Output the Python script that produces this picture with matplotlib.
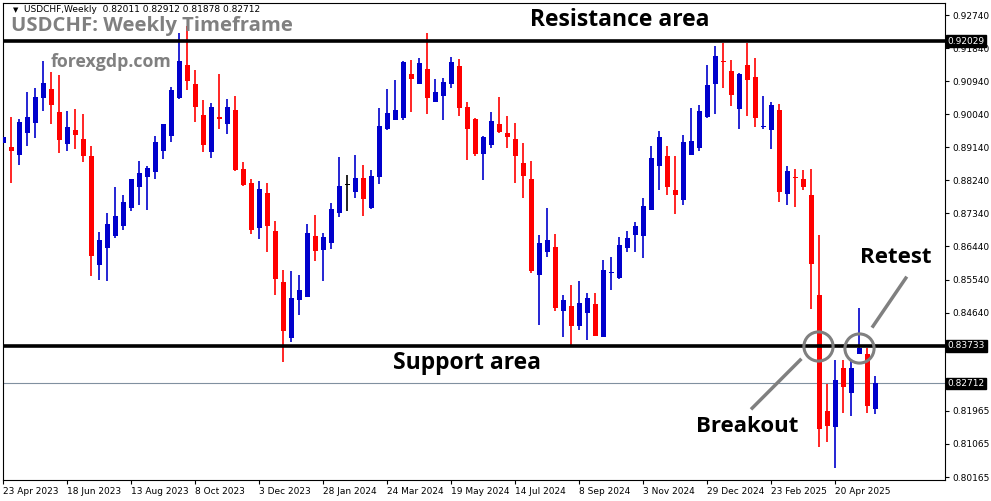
import matplotlib
matplotlib.use("Agg")
import matplotlib.pyplot as plt
import numpy as np

dates = ["23 Apr 2023", "18 Jun 2023", "13 Aug 2023", "8 Oct 2023", "3 Dec 2023", "28 Jan 2024",
         "24 Mar 2024", "19 May 2024", "14 Jul 2024", "8 Sep 2024", "3 Nov 2024", "29 Dec 2024",
         "23 Feb 2025", "20 Apr 2025"]
opens = [0.8925,0.8915,0.8894,0.8954,0.8981,0.9049,0.9073,0.9010,0.8924,0.8961,
         0.8936,0.8891,0.8594,0.8641,0.8673,0.8701,0.8750,0.8807,0.8834,0.8848,
         0.8905,0.8945,0.9048,0.9137,0.9086,0.9002,0.8902,0.8996,0.8978,0.9015,
         0.8855,0.8818,0.8695,0.8790,0.8687,0.8547,0.8396,0.8499,0.8507,0.8672,
         0.8635,0.8654,0.8736,0.8811,0.8793,0.8830,0.8749,0.8834,0.8965,0.8989,
         0.8994,0.9113,0.9087,0.9127,0.9038,0.9054,0.9087,0.9136,0.9024,0.8992,
         0.8896,0.8921,0.8977,0.8953,0.8936,0.8871,0.8828,0.8567,0.8630,0.8643,
         0.8469,0.8482,0.8428,0.8464,0.8487,0.8398,0.8571,0.8558,0.8640,0.8675,
         0.8673,0.8744,0.8864,0.8891,0.8798,0.8771,0.8894,0.8913,0.8997,0.9085,
         0.9148,0.9121,0.9019,0.9138,0.9105,0.8970,0.8962,0.9016,0.8786,0.8834,
         0.8828,0.8784,0.8512,0.8196,0.8154,0.8313,0.8246,0.8352,0.8352,0.82011]
closes = [0.8943,0.8905,0.8983,0.8996,0.9051,0.9089,0.9030,0.8935,0.8969,0.8948,
          0.8891,0.8619,0.8661,0.8705,0.8727,0.8765,0.8828,0.8844,0.8858,0.8928,
          0.8977,0.9070,0.9149,0.9095,0.9023,0.8921,0.9024,0.8992,0.9024,0.8852,
          0.8812,0.8690,0.8800,0.8701,0.8556,0.8415,0.8504,0.8525,0.8681,0.8632,
          0.8670,0.8746,0.8809,0.8811,0.8830,0.8774,0.8836,0.8972,0.9007,0.9015,
          0.9147,0.9100,0.9143,0.9049,0.9064,0.9092,0.9146,0.9022,0.8965,0.8895,
          0.8943,0.8985,0.8955,0.8943,0.8891,0.8837,0.8577,0.8653,0.8661,0.8477,
          0.8498,0.8428,0.8490,0.8504,0.8401,0.8580,0.8572,0.8648,0.8667,0.8700,
          0.8754,0.8885,0.8942,0.8807,0.8785,0.8928,0.8931,0.9013,0.9083,0.9162,
          0.9147,0.9056,0.9114,0.9098,0.8995,0.8973,0.9029,0.8793,0.8849,0.8831,
          0.8807,0.8597,0.8148,0.8156,0.8281,0.8262,0.8313,0.8368,0.8211,0.82712]
highs = [0.8979,0.8997,0.8990,0.9065,0.9074,0.9149,0.9120,0.9111,0.9014,0.9018,
         0.9004,0.8917,0.8684,0.8735,0.8807,0.8785,0.8828,0.8877,0.8864,0.8946,
         0.8977,0.9078,0.9226,0.9245,0.9125,0.9044,0.9035,0.9114,0.9045,0.9053,
         0.8875,0.8828,0.8822,0.8818,0.8714,0.8581,0.8577,0.8566,0.8705,0.8730,
         0.8682,0.8763,0.8888,0.8839,0.8893,0.8866,0.8852,0.9022,0.9073,0.9098,
         0.9149,0.9151,0.9157,0.9226,0.9100,0.9102,0.9160,0.9155,0.9037,0.8995,
         0.8945,0.9011,0.9051,0.8998,0.8980,0.8926,0.8877,0.8675,0.8749,0.8677,
         0.8513,0.8539,0.8550,0.8517,0.8517,0.8607,0.8615,0.8670,0.8687,0.8711,
         0.8776,0.8917,0.8958,0.8917,0.8891,0.8947,0.9021,0.9029,0.9138,0.9190,
         0.9197,0.9151,0.9117,0.9199,0.9157,0.9053,0.9038,0.9032,0.8864,0.8856,
         0.8852,0.8855,0.8675,0.8270,0.8335,0.8335,0.8332,0.8476,0.8368,0.82912]
lows = [0.8850,0.8818,0.8867,0.8918,0.8940,0.9014,0.8978,0.8899,0.8905,0.8910,
        0.8875,0.8564,0.8554,0.8551,0.8666,0.8690,0.8741,0.8758,0.8744,0.8829,
        0.8883,0.8929,0.9045,0.9071,0.8984,0.8902,0.8886,0.8965,0.8951,0.8850,
        0.8809,0.8679,0.8664,0.8630,0.8513,0.8330,0.8385,0.8458,0.8507,0.8605,
        0.8551,0.8638,0.8724,0.8741,0.8776,0.8727,0.8746,0.8815,0.8962,0.8989,
        0.8988,0.9010,0.9085,0.9005,0.9040,0.8987,0.9075,0.9000,0.8880,0.8891,
        0.8826,0.8913,0.8952,0.8913,0.8817,0.8776,0.8573,0.8430,0.8616,0.8469,
        0.8398,0.8376,0.8417,0.8390,0.8401,0.8398,0.8526,0.8556,0.8630,0.8630,
        0.8614,0.8744,0.8799,0.8785,0.8733,0.8758,0.8894,0.8905,0.8995,0.9005,
        0.9076,0.9026,0.8965,0.8999,0.8969,0.8965,0.8910,0.8766,0.8758,0.8752,
        0.8799,0.8475,0.8099,0.8113,0.8040,0.8192,0.8183,0.8352,0.8191,0.81878]
yticks = [0.92740, 0.91840, 0.90940, 0.90040, 0.89140, 0.88240, 0.87340, 0.86440,
          0.85540, 0.84640, 0.81965, 0.81065, 0.80165]
resistance = 0.92029
support = 0.83733
last_price = 0.82712

fig = plt.figure(figsize=(9.91, 5.01), dpi=100)
ax = fig.add_axes([3/991, 21/501, 942/991, 477/501])
x = np.arange(len(opens))
o = np.array(opens); c = np.array(closes)
cols = np.where(c > o, "#0000CC", np.where(c < o, "#FF0000", "#000000"))
cols[-1] = "#0000CC"
ax.vlines(x, lows, highs, colors=cols, linewidth=1.2, zorder=2)
body = np.maximum(np.abs(c - o), 0.00025)
ax.bar(x, body, bottom=np.minimum(o, c), width=0.62, color=cols, zorder=3)

ax.axhline(resistance, color="black", lw=2.6, zorder=4)
ax.axhline(support, color="black", lw=2.6, zorder=4)
ax.axhline(last_price, color="#8090A0", lw=0.8, zorder=1)

ax.set_xlim(-0.05, 117.7)
ax.set_ylim(0.80084, 0.93067)
ax.yaxis.tick_right()
ax.set_yticks(yticks)
ax.set_yticklabels([f"{v:.5f}" for v in yticks], fontsize=6.5, fontfamily="DejaVu Sans")
ax.set_xticks(np.arange(len(dates)) * 8)
ax.set_xticklabels(dates, fontsize=6.5, ha="left")
ax.tick_params(axis="both", length=3, width=0.8, pad=2)
for sp in ax.spines.values():
    sp.set_linewidth(0.8)

for v in (resistance, support, last_price):
    ax.annotate(f"{v:.5f}", xy=(1.0, v), xycoords=("axes fraction", "data"),
                xytext=(2, 0), textcoords="offset points", va="center", ha="left",
                fontsize=6.5, color="white",
                bbox=dict(boxstyle="square,pad=0.15", fc="black", ec="black"), zorder=10,
                annotation_clip=False)

bold = dict(fontfamily="Open Sans", fontweight="bold")
ax.text(77.1, 0.9260, "Resistance area", ha="center", va="center", fontsize=16.5, color="black", **bold)
ax.text(58.0, 0.8327, "Support area", ha="center", va="center", fontsize=16.5, color="black", **bold)
ax.text(93.0, 0.8153, "Breakout", ha="center", va="center", fontsize=16, color="black", **bold)
ax.text(111.5, 0.8615, "Retest", ha="center", va="center", fontsize=16, color="black", **bold)

ax.plot([101.8], [0.83733], "o", ms=21, mfc="none", mec="#808080", mew=2.2, zorder=6)
ax.plot([106.9], [0.8368], "o", ms=21, mfc="none", mec="#808080", mew=2.2, zorder=6)
ax.plot([93.6, 99.6], [0.8204, 0.8335], color="#808080", lw=2.5, zorder=6)
ax.plot([108.7, 112.8], [0.8427, 0.8558], color="#808080", lw=2.5, zorder=6)

fig.text(16/991, 1 - 10/501, "\u25BC", fontsize=5, va="center", ha="center")
fig.text(24/991, 1 - 10/501, "USDCHF,Weekly  0.82011 0.82912 0.81878 0.82712",
         fontsize=6.5, va="center", ha="left")
fig.text(11/991, 1 - 26/501, "USDCHF: Weekly Timeframe", fontsize=14.6, color="#808080",
         va="center", ha="left", **bold)
fig.text(51/991, 1 - 62/501, "forexgdp.com", fontsize=12.8, color="#808080",
         va="center", ha="left", **bold)

fig.savefig("out.png", dpi=100)
